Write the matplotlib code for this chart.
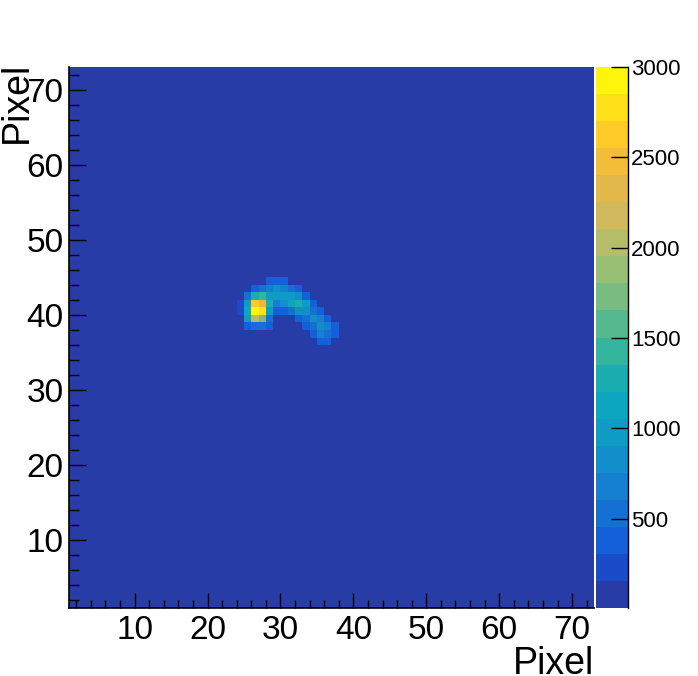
import numpy as np
import matplotlib
matplotlib.use('Agg')
import matplotlib.pyplot as plt
from matplotlib.colors import ListedColormap, BoundaryNorm

plt.rcParams['font.family'] = ['Liberation Sans', 'DejaVu Sans']

W, H = 698, 676
binEdges = np.arange(1, 74)
background = 15
xTicks = [10, 20, 30, 40, 50, 60, 70]
yTicks = [10, 20, 30, 40, 50, 60, 70]
barTicks = [500, 1000, 1500, 2000, 2500, 3000]
barLevels = np.linspace(5, 3000, 21)

# bottom to top
bandColors = ['#283ca8', '#1a4cc8', '#1360da', '#1570d4', '#1580d0', '#128ecb',
              '#0e9bc6', '#0ca6c0', '#1baeb0', '#33b59e', '#54b98e', '#78bc82',
              '#99bf74', '#b6bd68', '#cfb95c', '#e3b94c', '#f2bd38', '#fdca28',
              '#fde018', '#fdf60c']

# detector hits, first column of the grid, first row and values of each row
firstCol = 24
row44 = (4, [400, 400, 400])
row43 = (2, [400, 500, 650, 850, 700, 550, 400])
row42 = (1, [600, 1350, 1500, 1050, 1050, 1050, 1050, 800, 450])
row41 = (0, [300, 1000, 2600, 2400, 1300, 750, 900, 1150, 1250, 950, 450])
row40 = (0, [300, 1200, 3000, 2850, 1000, 350, 350, 550, 850, 850, 550, 400])
row39 = (1, [1000, 2000, 1750, 600, 5, 5, 5, 400, 550, 800, 650, 400])
row38 = (1, [350, 600, 600, 350, 5, 5, 5, 5, 350, 600, 900, 650, 450])
row37 = (10, [400, 750, 600, 450])
row36 = (11, [450, 450])
hitRows = {44: row44, 43: row43, 42: row42, 41: row41, 40: row40,
           39: row39, 38: row38, 37: row37, 36: row36}

counts = np.full((72, 72), background, dtype=float)
for y, (start, vals) in hitRows.items():
    for k, v in enumerate(vals):
        counts[y - 1, firstCol - 1 + start + k] = max(v, background)

cmap = ListedColormap(bandColors)
norm = BoundaryNorm(barLevels, cmap.N)

fig = plt.figure(figsize=(W / 100, H / 100), dpi=100)
ax = fig.add_axes([69 / W, 1 - 608 / H, 525 / W, 541 / H])
mesh = ax.pcolormesh(binEdges, binEdges, counts, cmap=cmap, norm=norm)

ax.set_xlim(1, 73)
ax.set_ylim(1, 73)
ax.set_xticks(xTicks)
ax.set_yticks(yTicks)
ax.set_xticks(np.arange(2, 73, 2), minor=True)
ax.set_yticks(np.arange(2, 73, 2), minor=True)
ax.tick_params(axis='x', which='major', direction='in', length=11, width=1, labelsize=24, pad=5)
ax.tick_params(axis='y', which='major', direction='in', length=12.5, width=1, labelsize=24, pad=4)
ax.tick_params(axis='x', which='minor', direction='in', length=6, width=1)
ax.tick_params(axis='y', which='minor', direction='in', length=7, width=1)
ax.spines['top'].set_visible(False)
ax.spines['right'].set_visible(False)
ax.spines['left'].set_linewidth(1.2)
ax.spines['bottom'].set_linewidth(1.2)

fig.text(594 / W, 1 - 674 / H, 'Pixel', fontsize=27, ha='right', va='baseline')
fig.text(17 / W, 1 - 62 / H, 'Pixel', fontsize=27, rotation=90, ha='center', va='top')

cax = fig.add_axes([596 / W, 1 - 608 / H, 32 / W, 541 / H])
bar = fig.colorbar(mesh, cax=cax, spacing='proportional', ticks=barTicks, drawedges=False)
bar.ax.minorticks_off()
bar.ax.tick_params(axis='y', direction='in', length=12, width=1, labelsize=16, pad=2, right=True)
bar.outline.set_visible(False)
cax.spines['right'].set_visible(True)
cax.spines['right'].set_linewidth(1)
cax.spines['right'].set_color('black')

fig.savefig('out.png', dpi=100)
